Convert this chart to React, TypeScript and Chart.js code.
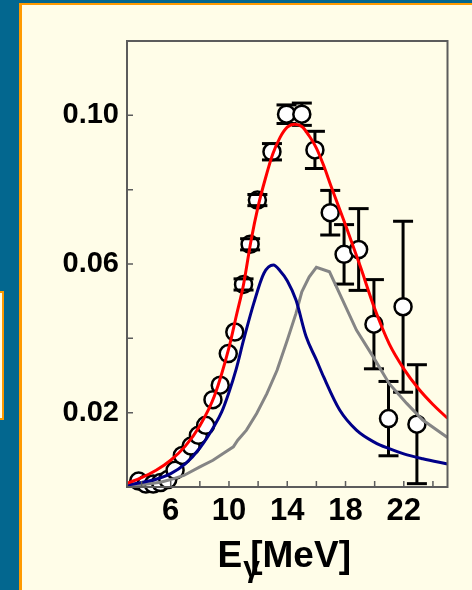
import { useEffect, useRef } from "react";
import { Chart, registerables } from "chart.js";

Chart.register(...registerables);

// Axis ticks
const xTickValues = [4, 6, 8, 10, 12, 14, 16, 18, 20, 22, 24];
const xTickLabels = ["", "6", "", "10", "", "14", "", "18", "", "22", ""];
const yTickValues = [0.02, 0.04, 0.06, 0.08, 0.1];
const yTickLabels = ["0.02", "", "0.06", "", "0.10"];

// Measured points: energy (MeV), value, error
const dataEnergy = [3.8, 4.3, 4.8, 5.3, 5.8, 6.3, 6.8, 7.4, 7.9, 8.4, 8.9, 9.4, 9.95, 10.4, 11.0, 11.45, 11.95, 12.95, 13.95, 15.0, 15.9, 16.95, 17.9, 18.9, 19.95, 20.95, 21.95, 22.9];
const dataValue = [0.0016, 0.0008, 0.0008, 0.0012, 0.002, 0.0045, 0.0085, 0.011, 0.0139, 0.0166, 0.0235, 0.0274, 0.0359, 0.0417, 0.0545, 0.0653, 0.0772, 0.0902, 0.1003, 0.1003, 0.0907, 0.0738, 0.0626, 0.0639, 0.0438, 0.0184, 0.0485, 0.0169];
const dataError = [0, 0, 0, 0, 0, 0, 0, 0, 0, 0, 0, 0, 0, 0, 0.0015, 0.0015, 0.0015, 0.0022, 0.0025, 0.003, 0.005, 0.006, 0.008, 0.011, 0.012, 0.01, 0.023, 0.016];

// Total fit (red)
const totalEnergy = [3, 4, 5, 6, 7, 8, 9, 10, 10.5, 11, 11.5, 12, 12.5, 13, 13.5, 14, 14.5, 15, 15.5, 16, 16.5, 17, 18, 19, 20, 21, 22, 23, 24, 25];
const totalValue = [0.001, 0.0025, 0.0045, 0.0072, 0.011, 0.0165, 0.0245, 0.0375, 0.046, 0.0545, 0.066, 0.0755, 0.083, 0.0895, 0.094, 0.0968, 0.0976, 0.097, 0.0945, 0.0912, 0.0865, 0.081, 0.0705, 0.0595, 0.048, 0.0385, 0.0318, 0.0265, 0.0222, 0.0185];

// Lower component (blue)
const lowerEnergy = [3, 4, 5, 6, 7, 8, 9, 9.5, 10, 10.5, 11, 11.7, 12.4, 13.05, 13.5, 14, 14.6, 15.3, 16, 16.5, 17.6, 18.75, 20, 21, 22, 23.3, 25];
const lowerValue = [0.0005, 0.0012, 0.0021, 0.0036, 0.0062, 0.0105, 0.0165, 0.0202, 0.0255, 0.0318, 0.0395, 0.0494, 0.0575, 0.0597, 0.0582, 0.0555, 0.0503, 0.0404, 0.0342, 0.0296, 0.0207, 0.0153, 0.012, 0.0103, 0.0089, 0.0076, 0.0062];

// Upper component (grey)
const upperEnergy = [3, 4, 5.3, 6, 6.9, 8, 8.9, 9.6, 10.3, 10.6, 11.2, 11.9, 12.6, 13.3, 14, 14.6, 15, 15.5, 16, 16.9, 17.8, 18.75, 19.9, 21, 22.2, 23.3, 25];
const upperValue = [0, 0.0006, 0.0013, 0.002, 0.0031, 0.0054, 0.0072, 0.009, 0.0108, 0.0126, 0.0153, 0.0198, 0.0251, 0.0314, 0.0395, 0.0467, 0.0525, 0.0565, 0.0591, 0.0579, 0.0503, 0.0422, 0.035, 0.0278, 0.0225, 0.018, 0.0133];

const toXY = (xs: number[], ys: number[]) => xs.map((x, i) => ({ x, y: ys[i] }));

const FRAME = "#5c5c5c";
const FONT = '"Liberation Sans", Arial, sans-serif';
const POINTS_INDEX = 3;

const framePlugin = {
  id: "frameAndBars",
  beforeDatasetDraw(chart: any, args: any) {
    if (args.index !== POINTS_INDEX) return;
    const { ctx, scales } = chart;
    const xs = scales.x;
    const ys = scales.y;
    ctx.save();
    ctx.strokeStyle = "#000";
    ctx.lineWidth = 3;
    dataEnergy.forEach((e, i) => {
      const err = dataError[i];
      if (!err) return;
      const px = xs.getPixelForValue(e);
      ctx.beginPath();
      ctx.moveTo(px, ys.getPixelForValue(dataValue[i] + err));
      ctx.lineTo(px, ys.getPixelForValue(dataValue[i] - err));
      ctx.stroke();
    });
    ctx.restore();
  },
  afterDatasetDraw(chart: any, args: any) {
    if (args.index !== POINTS_INDEX) return;
    const { ctx, scales } = chart;
    const xs = scales.x;
    const ys = scales.y;
    ctx.save();
    ctx.strokeStyle = "#000";
    ctx.lineWidth = 3;
    dataEnergy.forEach((e, i) => {
      const err = dataError[i];
      if (!err) return;
      const px = xs.getPixelForValue(e);
      for (const v of [dataValue[i] + err, dataValue[i] - err]) {
        const py = ys.getPixelForValue(v);
        ctx.beginPath();
        ctx.moveTo(px - 10, py);
        ctx.lineTo(px + 10, py);
        ctx.stroke();
      }
    });
    ctx.restore();
  },
  afterDraw(chart: any) {
    const { ctx, chartArea: a, scales } = chart;
    ctx.save();
    // frame
    ctx.strokeStyle = FRAME;
    ctx.lineWidth = 2;
    ctx.strokeRect(a.left, a.top, a.right - a.left, a.bottom - a.top);
    // inward tick marks
    ctx.lineWidth = 1.5;
    ctx.beginPath();
    yTickValues.forEach((v) => {
      const py = scales.y.getPixelForValue(v);
      ctx.moveTo(a.left, py);
      ctx.lineTo(a.left + 6, py);
    });
    xTickValues.forEach((v) => {
      const px = scales.x.getPixelForValue(v);
      ctx.moveTo(px, a.bottom);
      ctx.lineTo(px, a.bottom - 6);
    });
    ctx.stroke();
    // axis title: E_gamma [MeV]
    ctx.fillStyle = "#000";
    ctx.textBaseline = "alphabetic";
    ctx.textAlign = "left";
    const cx = (a.left + a.right) / 2 - 3;
    const base = a.bottom + 80;
    ctx.font = `bold 37px ${FONT}`;
    const wE = ctx.measureText("E").width;
    const wUnit = ctx.measureText("[MeV]").width;
    const gap = 8;
    const start = cx - (wE + gap + wUnit) / 2;
    ctx.fillText("E", start, base);
    ctx.fillText("[MeV]", start + wE + gap, base);
    ctx.font = `bold 30px ${FONT}`;
    ctx.fillText("γ", start + wE + 1, base + 10);
    ctx.restore();
  },
};

export default function App() {
  const ref = useRef<HTMLCanvasElement | null>(null);

  useEffect(() => {
    if (!ref.current) return;
    const chart = new Chart(ref.current, {
      type: "line",
      data: {
        datasets: [
          {
            data: toXY(totalEnergy, totalValue),
            borderColor: "#ff0000",
            borderWidth: 3,
            pointRadius: 0,
            tension: 0.4,
            cubicInterpolationMode: "monotone",
            fill: false,
          },
          {
            data: toXY(lowerEnergy, lowerValue),
            borderColor: "#000088",
            borderWidth: 3,
            pointRadius: 0,
            tension: 0.4,
            cubicInterpolationMode: "monotone",
            fill: false,
          },
          {
            data: toXY(upperEnergy, upperValue),
            borderColor: "#858585",
            borderWidth: 3,
            pointRadius: 0,
            tension: 0,
            fill: false,
          },
          {
            data: toXY(dataEnergy, dataValue),
            showLine: false,
            pointRadius: 8.5,
            pointBorderWidth: 2.5,
            pointBackgroundColor: "#ffffff",
            pointBorderColor: "#000000",
            clip: false,
          } as any,
        ],
      },
      options: {
        responsive: false,
        animation: false,
        events: [],
        layout: { padding: { left: 0, right: 24.5, top: 36, bottom: 0 } },
        plugins: { legend: { display: false }, tooltip: { enabled: false } },
        scales: {
          x: {
            type: "linear",
            min: 3,
            max: 25,
            grid: { display: false },
            border: { display: false },
            afterBuildTicks: (s: any) => {
              s.ticks = xTickValues.map((value) => ({ value }));
            },
            afterFit: (s: any) => {
              s.height = 103;
            },
            ticks: {
              autoSkip: false,
              maxRotation: 0,
              padding: -2,
              color: "#000",
              font: { family: FONT, size: 31, weight: "bold" },
              callback: (v: any) => xTickLabels[xTickValues.indexOf(Number(v))] ?? "",
            },
          },
          y: {
            type: "linear",
            min: 0,
            max: 0.12,
            grid: { display: false },
            border: { display: false },
            afterBuildTicks: (s: any) => {
              s.ticks = yTickValues.map((value) => ({ value }));
            },
            afterFit: (s: any) => {
              s.width = 105;
            },
            ticks: {
              autoSkip: false,
              padding: 0,
              color: "#000",
              font: { family: FONT, size: 29, weight: "bold" },
              callback: (v: any) => {
                const i = yTickValues.findIndex((t) => Math.abs(t - Number(v)) < 1e-9);
                return i >= 0 ? yTickLabels[i] : "";
              },
            },
          },
        },
      },
      plugins: [framePlugin],
    });
    return () => chart.destroy();
  }, []);

  return (
    <div
      style={{
        position: "fixed",
        left: 0,
        top: 0,
        width: 472,
        height: 590,
        overflow: "hidden",
        background: "#03678f",
      }}
    >
      <div
        style={{
          position: "absolute",
          left: -20,
          top: 291,
          width: 24,
          height: 129,
          boxSizing: "border-box",
          border: "2px solid #ff9a00",
          background: "#fffde8",
        }}
      />
      <div
        style={{
          position: "absolute",
          left: 19,
          top: 3,
          width: 520,
          height: 620,
          boxSizing: "border-box",
          borderLeft: "3px solid #ff9a00",
          borderTop: "2px solid #ff9a00",
          background: "#fffde8",
        }}
      />
      <canvas
        ref={ref}
        width={450}
        height={585}
        style={{ position: "absolute", left: 22, top: 5, width: 450, height: 585 }}
      />
    </div>
  );
}
